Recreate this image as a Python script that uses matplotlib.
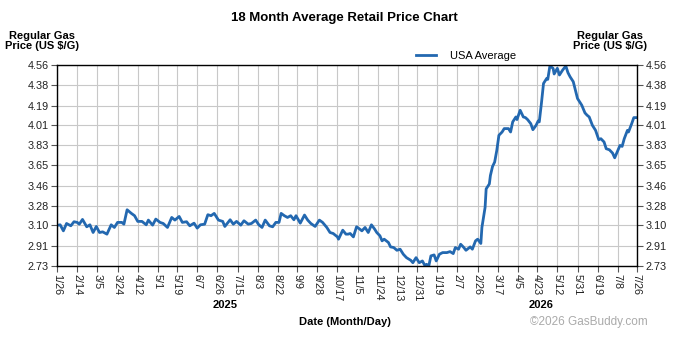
import matplotlib
matplotlib.use('Agg')
import matplotlib.pyplot as plt
import pandas as pd

plt.rcParams['font.family'] = ['Liberation Sans', 'DejaVu Sans']

# days since 2025-01-26 and average price (US $/G)
days = [0, 3, 6, 9, 13, 16, 19, 21, 24, 28, 31, 34, 37, 40, 43, 47, 51, 54, 57, 61,
        63, 66, 70, 73, 76, 80, 84, 86, 90, 93, 97, 100, 104, 108, 111, 115, 118, 122,
        125, 129, 132, 135, 139, 142, 145, 148, 152, 156, 158, 163, 166, 169, 173, 176,
        180, 183, 187, 190, 193, 196, 200, 203, 206, 209, 211, 214, 217, 220, 223, 225,
        229, 233, 236, 239, 243, 247, 250, 254, 257, 260, 264, 265, 269, 272, 274, 276,
        279, 282, 285, 287, 290, 293, 296, 299, 301, 304, 306, 308, 312, 314, 317, 320,
        323, 326, 329, 333, 335, 338, 341, 344, 346, 348, 350, 352, 355, 357, 360, 363,
        367, 370, 373, 375, 378, 380, 383, 385, 389, 391, 394, 396, 399, 400, 403, 404,
        407, 408, 410, 412, 414, 416, 419, 421, 425, 427, 429, 432, 433, 436, 439, 441,
        443, 446, 448, 451, 453, 454, 456, 458, 461, 462, 464, 467, 468, 471, 473, 476,
        479, 481, 483, 486, 488, 490, 494, 497, 499, 501, 504, 507, 510, 512, 515, 517,
        520, 523, 525, 528, 530, 532, 534, 537, 538, 541, 543, 545]
price = [3.10, 3.105, 3.05, 3.117, 3.096, 3.133, 3.127, 3.111, 3.154, 3.087, 3.105, 3.035,
         3.09, 3.035, 3.041, 3.02, 3.105, 3.081, 3.127, 3.127, 3.111, 3.242, 3.209, 3.188,
         3.136, 3.136, 3.105, 3.148, 3.102, 3.157, 3.127, 3.117, 3.081, 3.172, 3.148, 3.181,
         3.127, 3.133, 3.096, 3.12, 3.075, 3.105, 3.111, 3.197, 3.188, 3.209, 3.148, 3.136,
         3.09, 3.151, 3.111, 3.136, 3.102, 3.142, 3.111, 3.117, 3.148, 3.105, 3.081, 3.148,
         3.096, 3.087, 3.127, 3.127, 3.209, 3.188, 3.172, 3.188, 3.151, 3.188, 3.12, 3.194,
         3.148, 3.117, 3.09, 3.148, 3.127, 3.081, 3.035, 3.026, 2.995, 2.974, 3.056, 3.02,
         3.02, 3.026, 2.995, 3.087, 3.066, 3.05, 3.081, 3.035, 3.105, 3.066, 3.035, 3.005,
         2.959, 2.974, 2.944, 2.904, 2.898, 2.873, 2.883, 2.837, 2.806, 2.782, 2.76, 2.806,
         2.76, 2.776, 2.739, 2.745, 2.73, 2.822, 2.831, 2.776, 2.837, 2.852, 2.852, 2.861,
         2.843, 2.898, 2.883, 2.928, 2.898, 2.873, 2.904, 2.883, 2.959, 2.974, 2.935, 3.081,
         3.264, 3.432, 3.477, 3.554, 3.636, 3.676, 3.782, 3.92, 3.95, 3.981, 3.981, 3.95,
         4.042, 4.087, 4.063, 4.148, 4.087, 4.081, 4.063, 4.026, 3.971, 4.011, 4.051, 4.042,
         4.209, 4.392, 4.438, 4.429, 4.551, 4.53, 4.478, 4.53, 4.469, 4.514, 4.551, 4.49,
         4.453, 4.408, 4.331, 4.255, 4.194, 4.124, 4.103, 4.087, 4.011, 3.965, 3.88, 3.889,
         3.859, 3.798, 3.788, 3.758, 3.715, 3.782, 3.828, 3.819, 3.889, 3.965, 3.95, 4.026,
         4.081, 4.081]

tick_labels = ['1/26', '2/14', '3/5', '3/24', '4/12', '5/1', '5/19', '6/7', '6/26', '7/15',
               '8/3', '8/22', '9/9', '9/28', '10/17', '11/5', '11/24', '12/13', '12/31',
               '1/19', '2/7', '2/26', '3/17', '4/5', '4/23', '5/12', '5/31', '6/19', '7/8', '7/26']
tick_years = [2025] * 19 + [2026] * 11
y_ticks = [2.73, 2.91, 3.10, 3.28, 3.46, 3.65, 3.83, 4.01, 4.19, 4.38, 4.56]

start = pd.Timestamp('2025-01-26')
dates = [start + pd.Timedelta(days=d) for d in days]
tick_dates = [pd.Timestamp('%d/%s' % (yr, lab)) for yr, lab in zip(tick_years, tick_labels)]

fig = plt.figure(figsize=(6.89, 3.37), dpi=100)
ax = fig.add_axes([57 / 689, 1 - 266 / 337, 580 / 689, 201 / 337])

ax.plot(dates, price, color='#2368b0', linewidth=2.0, label='USA Average', solid_joinstyle='round')
ax.set_xlim(tick_dates[0], tick_dates[-1])
ax.set_ylim(2.73, 4.56)
ax.set_xticks(tick_dates)
ax.set_xticklabels(tick_labels, rotation=-90, fontsize=7.8, color='#222222')
ax.set_yticks(y_ticks)
ax.set_yticklabels(['%.2f' % v for v in y_ticks], fontsize=7.8, color='#222222')
ax.grid(True, color='#c8c8c8', linewidth=0.8)
ax.set_axisbelow(True)
ax.tick_params(axis='both', length=4, width=0.8, color='#555555', pad=2)
ax.tick_params(axis='y', right=True, labelright=True)
for s in ax.spines.values():
    s.set_linewidth(1.0)
    s.set_color('black')

fig.text(0.5, 1 - 18 / 337, '18 Month Average Retail Price Chart', ha='center', va='center',
         fontsize=9.5, fontweight='bold')
fig.text(42 / 689, 1 - 41 / 337, 'Regular Gas\nPrice (US $/G)', ha='center', va='center',
         fontsize=8, fontweight='bold', linespacing=1.0)
fig.text(610 / 689, 1 - 41 / 337, 'Regular Gas\nPrice (US $/G)', ha='center', va='center',
         fontsize=8, fontweight='bold', linespacing=1.0)
fig.text(225 / 689, 1 - 305 / 337, '2025', ha='center', va='center', fontsize=8, fontweight='bold')
fig.text(541 / 689, 1 - 305 / 337, '2026', ha='center', va='center', fontsize=8, fontweight='bold')
fig.text(345 / 689, 1 - 322 / 337, 'Date (Month/Day)', ha='center', va='center',
         fontsize=8, fontweight='bold')
fig.text(648 / 689, 1 - 322 / 337, '\u00a92026 GasBuddy.com', ha='right', va='center',
         fontsize=8.5, color='#aaaaaa')
fig.legend(loc='center', bbox_to_anchor=(466 / 689, 1 - 56 / 337), frameon=False,
           fontsize=8, handlelength=1.8, handletextpad=1.2)

fig.savefig('out.png', dpi=100)
